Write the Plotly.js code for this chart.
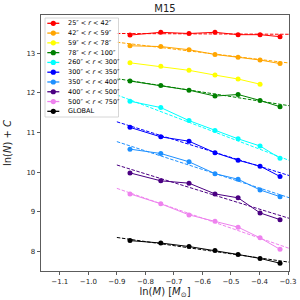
<!DOCTYPE html>
<html><head><meta charset="utf-8">
<script src="https://cdn.plot.ly/plotly-3.0.1.min.js"></script>
<style>html,body{margin:0;padding:0;background:#fff;}#chart{width:300px;height:300px;}</style>
</head><body><div id="chart"></div>
<script>
// ---- data ----
const logMass = [-0.854, -0.746, -0.647, -0.556, -0.475, -0.398, -0.328];
const fitX = [-0.9, -0.29];
const xTicks = [-1.1, -1.0, -0.9, -0.8, -0.7, -0.6, -0.5, -0.4, -0.3];
const yTicks = [8, 9, 10, 11, 12, 13];

const labels = [
  "25″ &lt; <i>r</i> &lt; 42″", "42″ &lt; <i>r</i> &lt; 59″", "59″ &lt; <i>r</i> &lt; 78″",
  "78″ &lt; <i>r</i> &lt; 100″", "260″ &lt; <i>r</i> &lt; 300″", "300″ &lt; <i>r</i> &lt; 350″",
  "350″ &lt; <i>r</i> &lt; 400″", "400″ &lt; <i>r</i> &lt; 500″", "500″ &lt; <i>r</i> &lt; 750″", "GLOBAL"
];
const colors = ["red", "orange", "yellow", "green", "cyan", "blue", "dodgerblue", "indigo", "violet", "black"];

const r25_42   = [13.46, 13.53, 13.50, 13.53, 13.47, 13.47, 13.42];
const r42_59   = [13.19, 13.17, 13.09, 12.97, 12.90, 12.83, 12.74];
const r59_78   = [12.76, 12.67, 12.57, 12.45, 12.35, 12.22];
const r78_100  = [12.30, 12.19, 12.07, 11.92, 11.96, 11.81, 11.65];
const r260_300 = [11.79, 11.63, 11.30, 11.05, 10.84, 10.66, 10.35];
const r300_350 = [11.13, 10.89, 10.78, 10.49, 10.30, 10.15, 9.89];
const r350_400 = [10.58, 10.47, 10.26, 9.96, 9.82, 9.55, 9.38];
const r400_500 = [9.98, 9.78, 9.72, 9.45, 9.35, 8.97, 8.80];
const r500_750 = [9.45, 9.20, 8.92, 8.76, 8.61, 8.34, 8.05];
const globalN  = [8.27, 8.21, 8.12, 8.02, 7.92, 7.82, 7.70];

// fitted lines: values at fitX (null = no fit drawn)
const fit25_42   = [13.50, 13.48];
const fit42_59   = [13.28, 12.75];
const fit59_78   = null;
const fit78_100  = [12.36, 11.67];
const fit260_300 = [11.95, 10.28];
const fit300_350 = [11.27, 9.90];
const fit350_400 = [10.77, 9.34];
const fit400_500 = [10.18, 8.82];
const fit500_750 = [9.59, 8.06];
const fitGlobal  = [8.35, 7.72];

const seriesVals = [r25_42, r42_59, r59_78, r78_100, r260_300, r300_350, r350_400, r400_500, r500_750, globalN];
const fitVals = [fit25_42, fit42_59, fit59_78, fit78_100, fit260_300, fit300_350, fit350_400, fit400_500, fit500_750, fitGlobal];

// ---- traces ----
const traces = [];
seriesVals.forEach((vals, i) => {
  if (fitVals[i]) {
    traces.push({x: fitX, y: fitVals[i], mode: 'lines', showlegend: false, hoverinfo: 'skip',
      line: {color: colors[i], width: 1, dash: '3.5px,1.6px'}});
  }
  traces.push({x: logMass.slice(0, vals.length), y: vals, mode: 'lines+markers', name: labels[i],
    showlegend: false, line: {color: colors[i], width: 1}, marker: {color: colors[i], size: 5}});
});

// ---- custom compact legend ----
const L = 41, R = 289, T = 15, B = 271;
const px = v => (v - L) / (R - L);
const py = v => (B - v) / (B - T);
const shapes = [{type: 'rect', xref: 'paper', yref: 'paper', x0: px(45), x1: px(118.5), y0: py(117), y1: py(18),
  line: {color: '#cccccc', width: 0.8}, fillcolor: 'rgba(255,255,255,0.8)', layer: 'above'}];
const annotations = [];
labels.forEach((lab, i) => {
  const yc = 23.3 + i * 9.78;
  shapes.push({type: 'line', xref: 'paper', yref: 'paper', x0: px(47.3), x1: px(59.3), y0: py(yc), y1: py(yc),
    line: {color: colors[i], width: 1.3}, layer: 'above'});
  shapes.push({type: 'circle', xref: 'paper', yref: 'paper', xsizemode: 'pixel', ysizemode: 'pixel',
    xanchor: px(53.3), yanchor: py(yc), x0: -2.6, x1: 2.6, y0: -2.6, y1: 2.6,
    fillcolor: colors[i], line: {width: 0}, layer: 'above'});
  annotations.push({xref: 'paper', yref: 'paper', x: px(65.5), y: py(yc), xanchor: 'left', yanchor: 'middle',
    text: lab, showarrow: false, font: {family: 'DejaVu Sans', size: 6.5, color: '#000'}});
});

const axisCommon = {
  ticks: 'outside', ticklen: 3.5, tickwidth: 0.8, tickcolor: '#333',
  showline: true, mirror: true, linecolor: '#333', linewidth: 0.8,
  showgrid: false, zeroline: false,
  tickfont: {family: 'DejaVu Sans', size: 7, color: '#222'}
};

const layout = {
  width: 300, height: 300,
  margin: {l: L, r: 300 - R, t: T, b: 300 - B},
  paper_bgcolor: '#fff', plot_bgcolor: '#fff',
  font: {family: 'DejaVu Sans', color: '#222'},
  title: {text: 'M15', font: {family: 'DejaVu Sans', size: 10, color: '#222'},
    x: 0.55, xanchor: 'center', y: 1 - 8.5 / 300, yanchor: 'middle', yref: 'container'},
  xaxis: Object.assign({}, axisCommon, {range: [-1.166, -0.2965], tickmode: 'array', tickvals: xTicks,
    ticktext: xTicks.map(v => (v < 0 ? '−' : '') + Math.abs(v).toFixed(1)),
    title: {text: 'ln(<i>M</i>) [<i>M</i><sub>⊙</sub>]', font: {family: 'DejaVu Sans', size: 10, color: '#222'}, standoff: 3}}),
  yaxis: Object.assign({}, axisCommon, {range: [7.503, 13.967], tickmode: 'array', tickvals: yTicks,
    title: {text: 'ln(<i>N</i>) + <i>C</i>', font: {family: 'DejaVu Sans', size: 10, color: '#222'}, standoff: 12}}),
  shapes: shapes,
  annotations: annotations,
  showlegend: false
};

Plotly.newPlot('chart', traces, layout, {displayModeBar: false, staticPlot: true});
</script>
</body></html>
